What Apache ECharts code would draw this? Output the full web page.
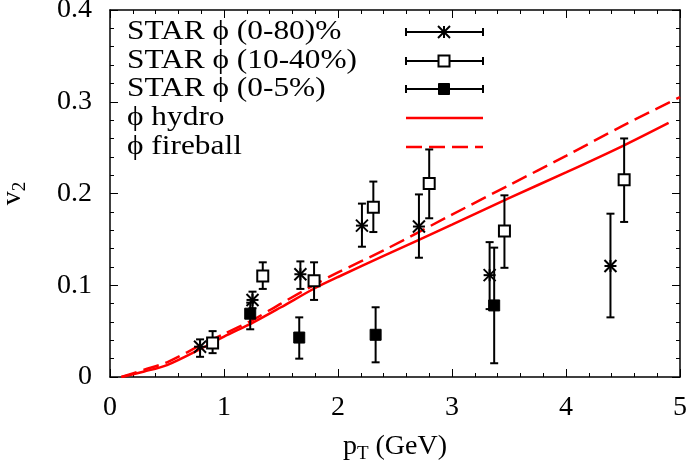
<!DOCTYPE html>
<html>
<head>
<meta charset="utf-8">
<script src="https://cdn.jsdelivr.net/npm/echarts@6/dist/echarts.min.js"></script>
<style>
  html, body { margin: 0; padding: 0; background: #fff; }
  #chart { width: 694px; height: 467px; }
</style>
</head>
<body>
<div id="chart"></div>
<script>
// STAR phi v2 points: x, y, low, high
var starX  = [0.79, 1.25, 1.67, 2.21, 2.71, 3.33, 4.39];
var starY  = [0.033, 0.084, 0.112, 0.165, 0.164, 0.111, 0.121];
var starLo = [0.022, 0.075, 0.096, 0.142, 0.130, 0.074, 0.065];
var starHi = [0.041, 0.093, 0.126, 0.189, 0.199, 0.147, 0.178];

var openX  = [0.90, 1.34, 1.79, 2.31, 2.80, 3.46, 4.51];
var openY  = [0.037, 0.110, 0.105, 0.185, 0.211, 0.159, 0.215];
var openLo = [0.026, 0.096, 0.084, 0.158, 0.173, 0.119, 0.169];
var openHi = [0.050, 0.125, 0.125, 0.213, 0.248, 0.198, 0.260];

var fillX  = [1.23, 1.66, 2.33, 3.37];
var fillY  = [0.069, 0.043, 0.046, 0.078];
var fillLo = [0.052, 0.020, 0.016, 0.015];
var fillHi = [0.081, 0.065, 0.076, 0.141];

// model curves
var hydroX = [0.1, 0.3, 0.5, 0.8, 1.0, 1.25, 1.5, 1.8, 2.0, 2.4, 3.0, 3.5, 4.0, 4.5, 4.9];
var hydroY = [0, 0.006, 0.013, 0.031, 0.044, 0.059, 0.076, 0.097, 0.109, 0.132, 0.166, 0.195, 0.223, 0.252, 0.277];
var fireX  = [0.1, 0.3, 0.5, 0.8, 1.0, 1.25, 1.5, 1.8, 2.0, 2.4, 3.0, 3.5, 4.0, 4.5, 5.0];
var fireY  = [0, 0.008, 0.016, 0.035, 0.047, 0.062, 0.080, 0.101, 0.114, 0.138, 0.177, 0.209, 0.241, 0.274, 0.305];

var legendNames = ['STAR ϕ (0-80)%', 'STAR ϕ (10-40%)', 'STAR ϕ (0-5%)', 'ϕ hydro', 'ϕ fireball'];

var font = 'Liberation Serif';

function zip(xs, ys, lo, hi) {
  return xs.map(function (x, i) { return lo ? [x, ys[i], lo[i], hi[i]] : [x, ys[i]]; });
}

function markerShapes(kind, cx, cy) {
  var s = 6, st = { stroke: '#000', lineWidth: 2, fill: null };
  if (kind === 'star') {
    return [
      { type: 'line', shape: { x1: cx - s, y1: cy, x2: cx + s, y2: cy }, style: st },
      { type: 'line', shape: { x1: cx, y1: cy - s, x2: cx, y2: cy + s }, style: st },
      { type: 'line', shape: { x1: cx - s, y1: cy - s, x2: cx + s, y2: cy + s }, style: st },
      { type: 'line', shape: { x1: cx - s, y1: cy + s, x2: cx + s, y2: cy - s }, style: st }
    ];
  }
  if (kind === 'open') {
    return [{ type: 'rect', shape: { x: cx - 5.5, y: cy - 5.5, width: 11, height: 11 },
      style: { stroke: '#000', lineWidth: 2, fill: '#fff' } }];
  }
  return [{ type: 'rect', shape: { x: cx - 5.5, y: cy - 5.5, width: 11, height: 11 },
    style: { stroke: '#000', lineWidth: 1, fill: '#000' } }];
}

function errRender(kind) {
  return function (params, api) {
    var p = api.coord([api.value(0), api.value(1)]);
    var pl = api.coord([api.value(0), api.value(2)]);
    var ph = api.coord([api.value(0), api.value(3)]);
    var c = 4, st = { stroke: '#000', lineWidth: 2 };
    var kids = [
      { type: 'line', shape: { x1: p[0], y1: pl[1], x2: p[0], y2: ph[1] }, style: st },
      { type: 'line', shape: { x1: p[0] - c, y1: pl[1], x2: p[0] + c, y2: pl[1] }, style: st },
      { type: 'line', shape: { x1: p[0] - c, y1: ph[1], x2: p[0] + c, y2: ph[1] }, style: st }
    ];
    return { type: 'group', children: kids.concat(markerShapes(kind, p[0], p[1])) };
  };
}

// legend drawn by hand (error-bar samples)
var legendGraphics = [];
var rowY = [32, 61, 89, 118, 147];
var kinds = ['star', 'open', 'fill'];
legendNames.forEach(function (name, i) {
  legendGraphics.push({ type: 'text', x: 127, y: rowY[i], scaleX: 1.12,
    style: { text: name, font: '28px "' + font + '"', fill: '#000', verticalAlign: 'middle' } });
  var y = rowY[i];
  if (i < 3) {
    var st = { stroke: '#000', lineWidth: 2 };
    legendGraphics.push({ type: 'line', shape: { x1: 406, y1: y, x2: 483, y2: y }, style: st });
    legendGraphics.push({ type: 'line', shape: { x1: 406, y1: y - 4, x2: 406, y2: y + 4 }, style: st });
    legendGraphics.push({ type: 'line', shape: { x1: 483, y1: y - 4, x2: 483, y2: y + 4 }, style: st });
    markerShapes(kinds[i], 444, y).forEach(function (m) { legendGraphics.push(m); });
  } else {
    legendGraphics.push({ type: 'line', shape: { x1: 406, y1: y, x2: 483, y2: y },
      style: { stroke: '#ff0000', lineWidth: 2.5, lineDash: i === 4 ? [16, 7] : null } });
  }
});

var axisBase = {
  axisLine: { show: true, onZero: false, lineStyle: { color: '#000', width: 1.5 } },
  axisTick: { show: true, inside: true, length: 8, lineStyle: { color: '#000', width: 1 } },
  minorTick: { show: true, splitNumber: 5, length: 4, lineStyle: { color: '#000', width: 1 } },
  splitLine: { show: false }
};

function ax(extra) { return Object.assign({}, axisBase, extra); }

var chart = echarts.init(document.getElementById('chart'));
chart.setOption({
  animation: false,
  backgroundColor: '#fff',
  grid: { left: 110, right: 14, top: 10, bottom: 90, containLabel: false, outerBoundsMode: 'none' },
  xAxis: [
    ax({ type: 'value', position: 'bottom', min: 0, max: 5, interval: 1,
      axisLabel: { color: '#000', fontFamily: font, fontSize: 28, margin: 17 },
      name: 'p{sub|T} (GeV)', nameLocation: 'middle', nameGap: 52,
      nameTextStyle: { color: '#000', fontFamily: font, fontSize: 28,
        rich: { sub: { fontFamily: font, fontSize: 19, verticalAlign: 'bottom', padding: [16, 0, 0, 0] } } } }),
    ax({ type: 'value', position: 'top', min: 0, max: 5, interval: 1, axisLabel: { show: false } })
  ],
  yAxis: [
    ax({ type: 'value', position: 'left', min: 0, max: 0.4, interval: 0.1,
      axisLabel: { color: '#000', fontFamily: font, fontSize: 28, margin: 18 },
      name: 'v{sub|2}', nameLocation: 'middle', nameGap: 80,
      nameTextStyle: { color: '#000', fontFamily: font, fontSize: 28,
        rich: { sub: { fontFamily: font, fontSize: 19, verticalAlign: 'bottom', padding: [16, 0, 0, 0] } } } }),
    ax({ type: 'value', position: 'right', min: 0, max: 0.4, interval: 0.1, axisLabel: { show: false } })
  ],
  graphic: legendGraphics,
  series: [
    { name: legendNames[3], type: 'line', data: zip(hydroX, hydroY), showSymbol: false, smooth: 0.3,
      lineStyle: { color: '#ff0000', width: 2.5 }, z: 2 },
    { name: legendNames[4], type: 'line', data: zip(fireX, fireY), showSymbol: false, smooth: 0.3,
      lineStyle: { color: '#ff0000', width: 2.5, type: [16, 7] }, z: 2 },
    { name: legendNames[0], type: 'custom', renderItem: errRender('star'),
      data: zip(starX, starY, starLo, starHi), encode: { x: 0, y: 1 }, z: 3 },
    { name: legendNames[1], type: 'custom', renderItem: errRender('open'),
      data: zip(openX, openY, openLo, openHi), encode: { x: 0, y: 1 }, z: 3 },
    { name: legendNames[2], type: 'custom', renderItem: errRender('fill'),
      data: zip(fillX, fillY, fillLo, fillHi), encode: { x: 0, y: 1 }, z: 3 }
  ]
});
</script>
</body>
</html>
